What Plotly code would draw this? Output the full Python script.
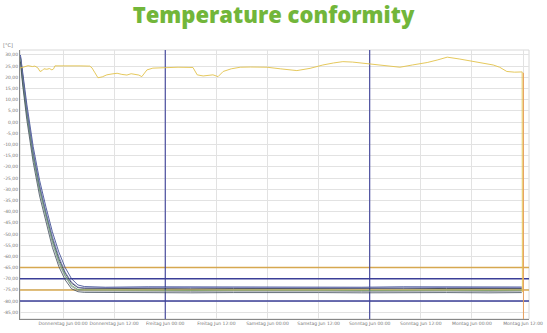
import plotly.graph_objects as go

# ---- data (hours relative to Donnerstag 00:00) ----
tick_hours = [0, 12, 24, 36, 48, 60, 72, 84, 96, 108]
tick_labels = ["Donnerstag Jun 00:00", "Donnerstag Jun 12:00", "Freitag Jun 00:00",
               "Freitag Jun 12:00", "Samstag Jun 00:00", "Samstag Jun 12:00",
               "Sonntag Jun 00:00", "Sonntag Jun 12:00", "Montag Jun 00:00",
               "Montag Jun 12:00"]
y_ticks = [30, 25, 20, 15, 10, 5, 0, -5, -10, -15, -20, -25, -30, -35, -40, -45,
           -50, -55, -60, -65, -70, -75, -80, -85]
y_tick_labels = ["30,00", "25,00", "20,00", "15,00", "10,00", "5,00", "0,00", "-5,00",
                 "-10,00", "-15,00", "-20,00", "-25,00", "-30,00", "-35,00", "-40,00",
                 "-45,00", "-50,00", "-55,00", "-60,00", "-65,00", "-70,00", "-75,00",
                 "-80,00", "-85,00"]

ambient_t = [-10.1, -9.2, -8.2, -7.2, -6.6, -5.9, -5.4, -4.9, -4.5, -3.8, -3.2, -2.6, -2.2,
             -1.9, 0, 2, 4, 6.3, 6.8, 7.5, 8.2, 9.2, 10.3, 11.5, 12.7, 13.8, 15.0, 16.0,
             16.9, 17.8, 18.5, 19.7, 21.1, 24.4, 27, 30.5, 31.5, 32.9, 34, 35.2, 36.4,
             37.6, 39.5, 41.6, 44, 47.9, 51, 54.9, 58, 61.0, 63.5, 65.7, 68, 71.4, 75,
             79.1, 82, 85.5, 88, 90.2, 93, 96.3, 99, 101.0, 102.5, 104.2, 106, 107.3,
             107.8, 107.85]
ambient_v = [24.1, 24.6, 25.2, 24.8, 25.0, 24.2, 22.6, 23.0, 23.8, 23.6, 23.9, 23.3, 23.8,
             25.1, 25.2, 25.0, 25.1, 25.0, 24.2, 22.0, 19.8, 20.2, 21.1, 21.5, 21.8, 21.3,
             21.0, 21.6, 21.4, 21.0, 20.3, 23.3, 24.1, 24.4, 24.5, 24.4, 21.1, 20.6, 21.0,
             21.1, 20.3, 22.6, 23.8, 24.5, 24.6, 24.5, 23.8, 23.0, 24.0, 25.5, 26.4, 27.0,
             26.8, 26.0, 25.2, 24.5, 25.5, 26.6, 27.8, 29.0, 28.2, 27.0, 26.2, 25.5, 24.5,
             22.6, 22.3, 22.6, 22.4, -76.0]

cold_t = [-10.0, -9.5, -8.5, -7.0, -5.5, -4.0, -2.5, -1.0, 0.5, 2.0, 3.5, 5.0, 10, 20,
          30, 40, 50, 60, 70, 80, 90, 100, 107.7]
probe_1 = [30.0, 22.0, 8.0, -11.0, -26.0, -38.0, -49.0, -58.0, -65.0, -70.0, -72.8, -73.5,
           -73.8, -73.6, -73.7, -73.8, -73.6, -73.7, -73.8, -73.6, -73.7, -73.8, -73.7]
probe_2 = [29.0, 20.0, 5.0, -14.0, -29.0, -41.0, -52.0, -61.0, -67.5, -72.0, -74.0, -74.3,
           -74.4, -74.3, -74.5, -74.4, -74.3, -74.5, -74.4, -74.3, -74.4, -74.5, -74.4]
probe_3 = [28.0, 18.0, 3.0, -16.0, -31.0, -43.0, -54.0, -63.0, -69.0, -73.5, -75.2, -75.5,
           -75.6, -75.5, -75.7, -75.6, -75.5, -75.6, -75.7, -75.5, -75.6, -75.7, -75.6]
probe_4 = [28.5, 19.0, 4.0, -15.0, -30.0, -42.0, -53.0, -62.0, -68.5, -73.0, -74.8, -75.0,
           -75.1, -75.0, -75.2, -75.1, -75.0, -75.1, -75.2, -75.0, -75.1, -75.2, -75.1]
probe_5 = [29.5, 21.0, 6.0, -13.0, -28.0, -40.0, -51.0, -60.0, -67.0, -71.5, -73.8, -74.1,
           -74.0, -74.1, -73.9, -74.0, -74.1, -73.9, -74.0, -74.1, -73.9, -74.0, -74.0]
probe_6 = [27.0, 17.0, 1.0, -18.0, -33.0, -45.0, -56.0, -64.5, -70.5, -74.5, -75.8, -76.1,
           -76.2, -76.1, -76.3, -76.2, -76.1, -76.2, -76.3, -76.1, -76.2, -76.3, -76.2]

limit_levels = [-65, -70, -75, -80]
limit_colors = ["#d6a850", "#3b3f98", "#d6a850", "#3b3f98"]
day_marks = [24, 72]
end_mark = [108.1]

x_range = [-10.1, 109.4]
y_range = [-88, 32.2]

fig = go.Figure()

for lvl, col in zip(limit_levels, limit_colors):
    fig.add_trace(go.Scatter(x=x_range, y=[lvl, lvl], mode="lines",
                             line=dict(color=col, width=1.5), hoverinfo="skip",
                             showlegend=False))
for d in day_marks:
    fig.add_trace(go.Scatter(x=[d, d], y=y_range, mode="lines",
                             line=dict(color="#3b3f98", width=1.1), hoverinfo="skip",
                             showlegend=False))
for d in end_mark:
    fig.add_trace(go.Scatter(x=[d, d], y=[y_range[0], 22], mode="lines",
                             line=dict(color="#e8a060", width=1), hoverinfo="skip",
                             showlegend=False))

probe_colors = ["#2d3f8a", "#1e2430", "#8a9098", "#5f9a6a", "#6a6fb0", "#3c4a58"]
for vals, col in zip([probe_1, probe_2, probe_3, probe_4, probe_5, probe_6], probe_colors):
    fig.add_trace(go.Scatter(x=cold_t, y=vals, mode="lines",
                             line=dict(color=col, width=0.8), showlegend=False))

fig.add_trace(go.Scatter(x=ambient_t, y=ambient_v, mode="lines",
                         line=dict(color="#e2c24a", width=0.9), showlegend=False))

fig.update_layout(
    width=547, height=333,
    margin=dict(l=20, r=18, t=50, b=14),
    paper_bgcolor="white", plot_bgcolor="white",
    title=dict(text="Temperature conformity", x=0.5, xanchor="center",
               yref="container", y=0.976, yanchor="top",
               font=dict(family="Open Sans", size=22, color="#72b63a", weight=800)),
    xaxis=dict(range=x_range, tickvals=tick_hours, ticktext=tick_labels, tickangle=0,
               showgrid=True, gridcolor="#e2e2e2", gridwidth=1, automargin=False,
               tickfont=dict(size=4.5, color="#777777", family="DejaVu Sans"),
               showline=True, linecolor="#888888", linewidth=1, mirror=False,
               zeroline=False, ticks="", ticklen=0),
    yaxis=dict(range=y_range, tickvals=y_ticks, ticktext=y_tick_labels,
               showgrid=True, gridcolor="#e2e2e2", gridwidth=1, automargin=False,
               tickfont=dict(size=4.5, color="#777777", family="DejaVu Sans"),
               showline=True, linecolor="#888888", linewidth=1,
               zeroline=False, ticks="", ticklen=0),
    shapes=[dict(type="rect", xref="paper", yref="paper", x0=0, x1=1, y0=0, y1=1,
                 line=dict(color="#d8d8d8", width=1), layer="below")],
    annotations=[dict(text="[°C]", xref="paper", yref="paper", x=-0.01, y=1.0,
                      xanchor="right", yanchor="bottom", showarrow=False,
                      font=dict(size=5, color="#777777", family="DejaVu Sans"))],
)

fig.write_html("out.html")
